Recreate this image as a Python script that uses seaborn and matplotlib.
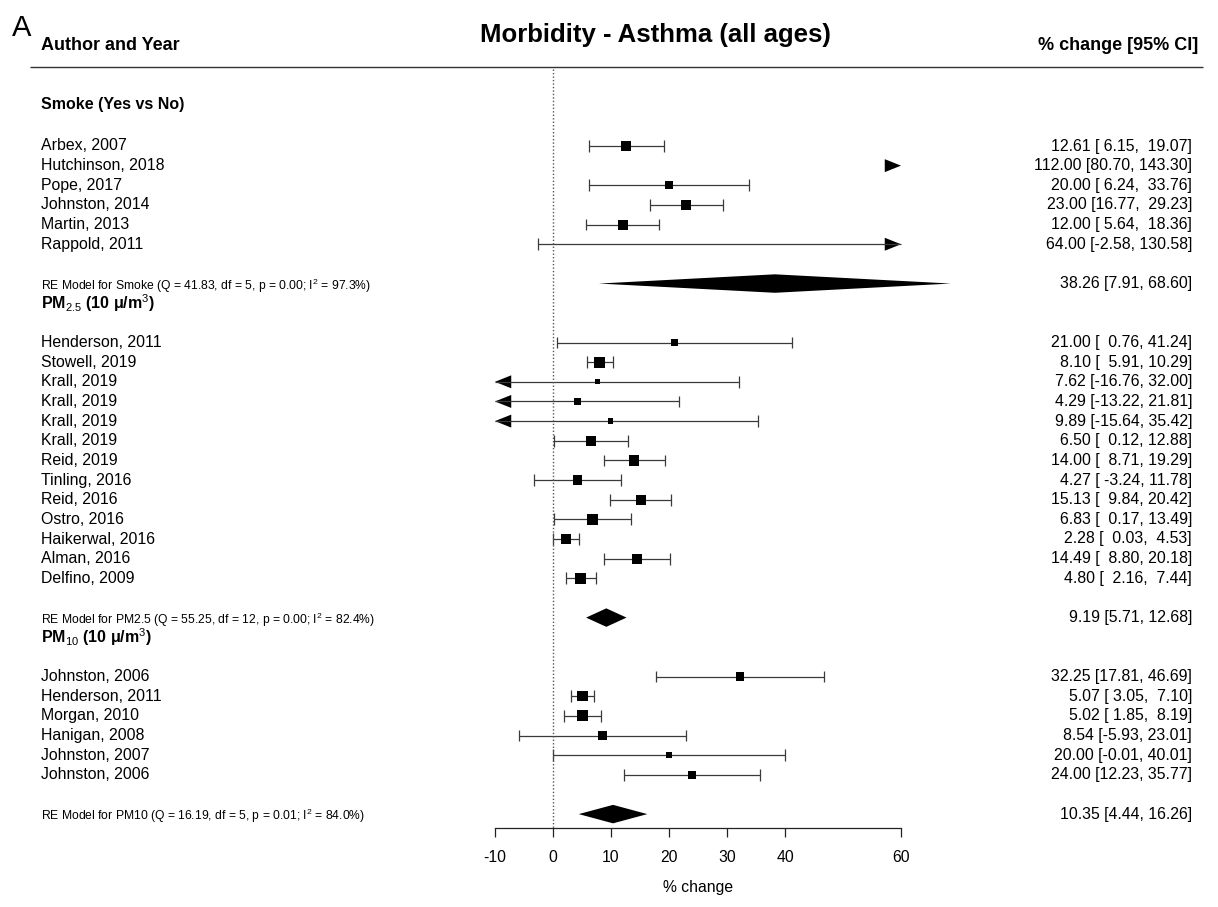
import numpy as np
import pandas as pd
import seaborn as sns
import matplotlib.pyplot as plt

# ---- data ----
group_titles = ['Smoke (Yes vs No)', 'PM$_{2.5}$ (10 \u03bc/m$^3$)', 'PM$_{10}$ (10 \u03bc/m$^3$)']
group_keys = ['Smoke', 'PM2.5', 'PM10']

smoke_names = ['Arbex, 2007', 'Hutchinson, 2018', 'Pope, 2017', 'Johnston, 2014',
               'Martin, 2013', 'Rappold, 2011']
smoke_est = [12.61, 112.00, 20.00, 23.00, 12.00, 64.00]
smoke_lo = [6.15, 80.70, 6.24, 16.77, 5.64, -2.58]
smoke_hi = [19.07, 143.30, 33.76, 29.23, 18.36, 130.58]
smoke_wt = [9.0, 1.0, 4.1, 7.8, 7.8, 1.0]

pm25_names = ['Henderson, 2011', 'Stowell, 2019', 'Krall, 2019', 'Krall, 2019', 'Krall, 2019',
              'Krall, 2019', 'Reid, 2019', 'Tinling, 2016', 'Reid, 2016', 'Ostro, 2016',
              'Haikerwal, 2016', 'Alman, 2016', 'Delfino, 2009']
pm25_est = [21.00, 8.10, 7.62, 4.29, 9.89, 6.50, 14.00, 4.27, 15.13, 6.83, 2.28, 14.49, 4.80]
pm25_lo = [0.76, 5.91, -16.76, -13.22, -15.64, 0.12, 8.71, -3.24, 9.84, 0.17, 0.03, 8.80, 2.16]
pm25_hi = [41.24, 10.29, 32.00, 21.81, 35.42, 12.88, 19.29, 11.78, 20.42, 13.49, 4.53, 20.18, 7.44]
pm25_wt = [3.0, 10.0, 0.0, 2.5, 0.3, 7.8, 8.3, 6.5, 8.3, 9.0, 8.3, 8.3, 10.0]

pm10_names = ['Johnston, 2006', 'Henderson, 2011', 'Morgan, 2010', 'Hanigan, 2008',
              'Johnston, 2007', 'Johnston, 2006']
pm10_est = [32.25, 5.07, 5.02, 8.54, 20.00, 24.00]
pm10_lo = [17.81, 3.05, 1.85, -5.93, -0.01, 12.23]
pm10_hi = [46.69, 7.10, 8.19, 23.01, 40.01, 35.77]
pm10_wt = [4.5, 8.3, 10.0, 5.0, 2.0, 4.5]

# random-effects summaries
re_est = [38.26, 9.19, 10.35]
re_lo = [7.91, 5.71, 4.44]
re_hi = [68.60, 12.68, 16.26]
re_q = [41.83, 55.25, 16.19]
re_df = [5, 12, 5]
re_p = [0.00, 0.00, 0.01]
re_i2 = [97.3, 82.4, 84.0]

xticks = [-10, 0, 10, 20, 30, 40, 60]
alim = (-10, 60)

# ---- layout (pixel geometry of the reference) ----
W, H = 1218, 907
X0, PPU = 553, 5.8      # pixel of x=0, pixels per unit
Y0, PPR = 146, 19.65    # pixel of first study row, pixels per row


def xp(p):
    return (p - X0) / PPU


def yp(p):
    return (p - Y0) / PPR


sns.set_style('ticks')
plt.rcParams['font.family'] = ['Liberation Sans', 'DejaVu Sans']
plt.rcParams['mathtext.fontset'] = 'custom'
plt.rcParams['mathtext.rm'] = 'Liberation Sans'
plt.rcParams['mathtext.it'] = 'Liberation Sans:italic'
plt.rcParams['mathtext.bf'] = 'Liberation Sans:bold'
plt.rcParams['text.color'] = 'black'

fig = plt.figure(figsize=(W / 100, H / 100), dpi=100)
ax = fig.add_axes([0, 0, 1, 1])

groups = [
    (smoke_names, smoke_est, smoke_lo, smoke_hi, smoke_wt),
    (pm25_names, pm25_est, pm25_lo, pm25_hi, pm25_wt),
    (pm10_names, pm10_est, pm10_lo, pm10_hi, pm10_wt),
]

frames = []
summary_rows = []
header_rows = []
start = 0
for g, (names, est, lo, hi, wt) in enumerate(groups):
    rows = np.arange(start, start + len(names))
    frames.append(pd.DataFrame({'name': names, 'est': est, 'lo': lo, 'hi': hi,
                                'weight': wt, 'row': rows, 'group': g}))
    header_rows.append(start - 2)
    summary_rows.append(rows[-1] + 2)
    start = rows[-1] + 5
df = pd.concat(frames, ignore_index=True)
axis_row = yp(828)

line_col = '#3a3a3a'
cap_h = 0.3
arr_w, arr_h = 2.8, 0.33

# confidence intervals, caps and arrows
for _, r in df.iterrows():
    y = r['row']
    if r['lo'] > alim[1]:
        ax.fill([alim[1], alim[1] - arr_w, alim[1] - arr_w], [y, y - arr_h, y + arr_h], color='black', lw=0)
        continue
    if r['hi'] < alim[0]:
        ax.fill([alim[0], alim[0] + arr_w, alim[0] + arr_w], [y, y - arr_h, y + arr_h], color='black', lw=0)
        continue
    lo_c = max(r['lo'], alim[0])
    hi_c = min(r['hi'], alim[1])
    ax.hlines(y, lo_c, hi_c, color=line_col, lw=0.9)
    if r['lo'] >= alim[0]:
        ax.vlines(r['lo'], y - cap_h, y + cap_h, color=line_col, lw=0.9)
    else:
        ax.fill([alim[0], alim[0] + arr_w, alim[0] + arr_w], [y, y - arr_h, y + arr_h], color='black', lw=0)
    if r['hi'] <= alim[1]:
        ax.vlines(r['hi'], y - cap_h, y + cap_h, color=line_col, lw=0.9)
    else:
        ax.fill([alim[1], alim[1] - arr_w, alim[1] - arr_w], [y, y - arr_h, y + arr_h], color='black', lw=0)

# study squares (size ~ weight)
shown = df[(df['est'] >= alim[0]) & (df['est'] <= alim[1])]
sns.scatterplot(data=shown, x='est', y='row', size='weight', sizes=(13, 63), size_norm=(0, 10),
                marker='s', color='black', linewidth=0, legend=False, ax=ax, zorder=3)

# summary diamonds
dh = 0.47
for g in range(3):
    y = summary_rows[g]
    ax.fill([re_lo[g], re_est[g], re_hi[g], re_est[g]], [y, y - dh, y, y + dh], color='black', lw=0)

# reference line at zero
ax.vlines(0, yp(69), axis_row, colors='#555555', linestyles=(0, (1, 1.5)), lw=1.0)

# header rule
ax.hlines(yp(67), xp(30), xp(1203), color='#333333', lw=1.0)

# text columns
left_x = xp(41)
right_x = xp(1192)
fs = 11.4
for g, (names, est, lo, hi, wt) in enumerate(groups):
    sub = df[df['group'] == g]
    wlo = max(len(f'{v:.2f}') for v in lo)
    whi = max(len(f'{v:.2f}') for v in hi)
    for _, r in sub.iterrows():
        ax.text(left_x, r['row'], r['name'], fontsize=fs, ha='left', va='center')
        s = f"{r['est']:.2f} [{r['lo']:{wlo}.2f}, {r['hi']:{whi}.2f}]"
        ax.text(right_x, r['row'], s, fontsize=fs, ha='right', va='center')
    ax.text(left_x, header_rows[g] - (0.12 if g == 0 else 0.0), group_titles[g], fontsize=11.5,
            fontweight='bold', ha='left', va='center')
    lab = (f"RE Model for {group_keys[g]} (Q = {re_q[g]:.2f}, df = {re_df[g]}, "
           f"p = {re_p[g]:.2f}; I$^2$ = {re_i2[g]:.1f}%)")
    ax.text(left_x, summary_rows[g] + 0.1, lab, fontsize=8.7, ha='left', va='center')
    ax.text(right_x, summary_rows[g], f"{re_est[g]:.2f} [{re_lo[g]:.2f}, {re_hi[g]:.2f}]",
            fontsize=fs, ha='right', va='center')

ax.text(left_x, yp(46), 'Author and Year', fontsize=13, fontweight='bold', ha='left', va='center')
ax.text(xp(1198), yp(46), '% change [95% CI]', fontsize=13, fontweight='bold', ha='right', va='center')
ax.text(xp(655), yp(35), 'Morbidity - Asthma (all ages)', fontsize=18.5, fontweight='bold',
        ha='center', va='center')
fig.text(12 / W, 1 - 28 / H, 'A', fontsize=21, ha='left', va='center')
ax.text(np.mean(alim), yp(887), '% change', fontsize=11.3, ha='center', va='center')

# x axis
for side in ['left', 'top', 'right']:
    ax.spines[side].set_visible(False)
ax.spines['bottom'].set_position(('data', axis_row))
ax.spines['bottom'].set_bounds(*alim)
ax.spines['bottom'].set_color('#222222')
ax.spines['bottom'].set_linewidth(0.9)
ax.set_xticks(xticks)
ax.set_xticklabels([str(t) for t in xticks])
ax.set_yticks([])
ax.tick_params(axis='x', direction='out', length=6.5, width=0.9, pad=9, labelsize=11.3,
               colors='#222222', labelcolor='black')
ax.set_xlabel('')
ax.set_ylabel('')
ax.set_xlim(-X0 / PPU, (W - X0) / PPU)
ax.set_ylim((H - Y0) / PPR, -Y0 / PPR)
ax.set_facecolor('white')

fig.savefig('out.png', dpi=100, facecolor='white')
